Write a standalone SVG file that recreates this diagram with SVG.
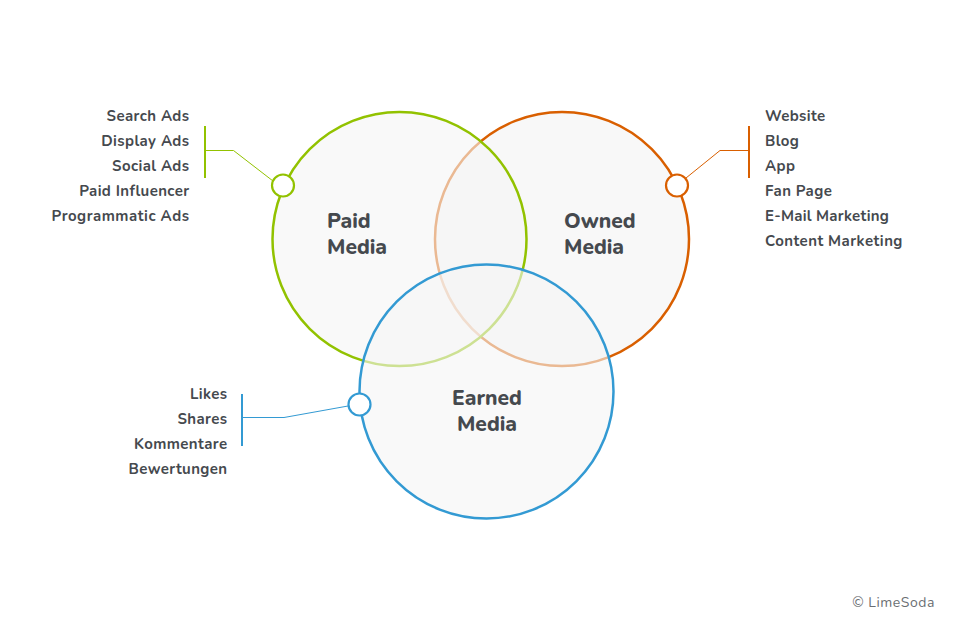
<svg xmlns="http://www.w3.org/2000/svg" width="960" height="617" viewBox="0 0 960 617">
<style>
text{font-family:"Nunito","Lato","Open Sans",sans-serif;fill:#45494e}
.i{font-size:15px;font-weight:700;letter-spacing:.4px}
.r{text-anchor:end}
.t{font-size:21px;font-weight:800}
.big{stroke-width:2.500}
.fill{fill:#f5f5f5;fill-opacity:.6}
.dot{fill:#fff;stroke-width:2.200}
.thin{fill:none;stroke-width:1}
.bar{fill:none;stroke-width:2}
</style>
<rect width="960" height="617" fill="#fff"/>
<g id="owned-circle"><circle cx="562" cy="239" r="127" fill="#f8f8f8" stroke="#d95f00" class="big"/></g>
<g id="paid-circle"><circle cx="399.500" cy="239" r="127" class="fill big" stroke="#92c200"/></g>
<g id="earned-circle"><circle cx="486.500" cy="391.500" r="127" class="fill" stroke="none"/><circle cx="486.500" cy="391.500" r="127" fill="none" stroke="#339ad3" class="big"/></g>
<g id="connectors">
<path d="M205 126V178" class="bar" stroke="#92c200"/>
<path d="M205 150.500H233.500L273 181" class="thin" stroke="#92c200"/>
<path d="M749 126V178" class="bar" stroke="#d95f00"/>
<path d="M749 150.500H720L686 178" class="thin" stroke="#d95f00"/>
<path d="M242 394V446" class="bar" stroke="#339ad3"/>
<path d="M242 417.500H284L348 406" class="thin" stroke="#339ad3"/>
</g>
<g id="paid-handle"><circle cx="283" cy="185.500" r="11" class="dot" stroke="#92c200"/></g>
<g id="owned-handle"><circle cx="677" cy="185.500" r="11" class="dot" stroke="#d95f00"/></g>
<g id="earned-handle"><circle cx="359.500" cy="404.500" r="11" class="dot" stroke="#339ad3"/></g>
<g id="paid-label"><text class="t" x="327" y="228">Paid</text><text class="t" x="327" y="254">Media</text></g>
<g id="owned-label"><text class="t" x="564" y="228">Owned</text><text class="t" x="564" y="254">Media</text></g>
<g id="earned-label"><text class="t" x="487" y="405" text-anchor="middle">Earned</text><text class="t" x="487" y="431" text-anchor="middle">Media</text></g>
<g id="paid-list">
<text class="i r" x="189.500" y="121">Search Ads</text>
<text class="i r" x="189.500" y="146">Display Ads</text>
<text class="i r" x="189.500" y="171">Social Ads</text>
<text class="i r" x="189.500" y="196">Paid Influencer</text>
<text class="i r" x="189.500" y="221" style="letter-spacing:.5px">Programmatic Ads</text>
</g>
<g id="owned-list">
<text class="i" x="765" y="121">Website</text>
<text class="i" x="765" y="146">Blog</text>
<text class="i" x="765" y="171">App</text>
<text class="i" x="765" y="196">Fan Page</text>
<text class="i" x="765" y="221" style="letter-spacing:.25px">E-Mail Marketing</text>
<text class="i" x="765" y="246" style="letter-spacing:.45px">Content Marketing</text>
</g>
<g id="earned-list">
<text class="i r" x="227.500" y="399">Likes</text>
<text class="i r" x="227.500" y="424">Shares</text>
<text class="i r" x="227.500" y="449">Kommentare</text>
<text class="i r" x="227.500" y="474">Bewertungen</text>
</g>
<text x="935" y="607" text-anchor="end" font-size="14px" style="fill:#6a6e72;letter-spacing:.55px">© LimeSoda</text>
</svg>
